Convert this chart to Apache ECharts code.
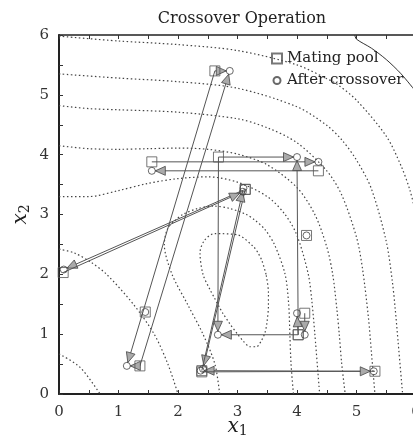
<!DOCTYPE html>
<html><head><meta charset="utf-8">
<script src="https://cdn.jsdelivr.net/npm/echarts@6/dist/echarts.min.js"></script>
<style>html,body{margin:0;padding:0;background:#fff}#c{width:413px;height:442px}</style>
</head><body><div id="c"></div>
<script>
// ---- data ----
const xTickLabels = ['0','1','2','3','4','5','6'];
const yTickLabels = ['0','1','2','3','4','5','6'];

// crossover pairs: parents (mating pool) and their children (after crossover)
const parentA = [[2.62,5.40],[2.68,3.96],[1.56,3.88],[4.13,1.35],[0.07,2.03],[2.40,0.39],[2.40,0.37]];
const parentB = [[1.36,0.47],[4.02,0.99],[4.36,3.73],[4.02,0.99],[3.13,3.42],[3.13,3.42],[5.31,0.38]];
const childA  = [[2.87,5.40],[4.00,3.96],[4.36,3.88],[4.00,1.35],[0.08,2.08],[2.42,0.42],[2.38,0.39]];
const childB  = [[1.14,0.47],[2.67,0.99],[1.56,3.73],[4.13,0.99],[3.09,3.38],[3.10,3.44],[5.29,0.38]];
// individuals copied unchanged (no crossover)
const unchanged = [[1.45,1.37],[4.16,2.65]];

// contour lines (dotted) of the objective
const contour10 = [[3.48,2.0],[3.41,2.23],[3.35,2.35],[3.27,2.46],[3.0,2.66],[2.61,2.68],[2.44,2.56],[2.37,2.36],[2.42,2.0],[2.54,1.74],[2.61,1.61],[2.69,1.46],[2.76,1.34],[2.86,1.19],[3.0,1.0],[3.10,0.88],[3.21,0.79],[3.32,0.79],[3.40,0.89],[3.46,1.02],[3.49,1.16],[3.52,1.48],[3.52,1.70],[3.48,2.0]];
const contour30 = [[2.70,0],[2.62,0.5],[2.42,1.0],[2.16,1.5],[1.90,2.0],[1.77,2.5],[1.82,2.75],[1.95,2.9],[2.08,3.0],[2.33,3.1],[2.6,3.14],[2.87,3.1],[3.15,3.0],[3.3,2.9],[3.46,2.75],[3.62,2.5],[3.80,2.0],[3.86,1.5],[3.88,1.0],[3.9,0.5],[3.94,0]];
const contour75a = [[0,2.42],[0.25,2.36],[0.54,2.2],[0.8,2.0],[1.25,1.5],[1.6,1.0],[1.83,0.5],[2.0,0]];
const contour75b = [[0,3.3],[0.5,3.3],[1,3.4],[1.5,3.52],[2,3.6],[2.5,3.63],[3,3.54],[3.5,3.3],[3.8,3.0],[4.0,2.65],[4.19,2.0],[4.25,1.55],[4.3,1.0],[4.38,0]];
const contour150a = [[0,0.67],[0.35,0.45],[0.69,0]];
const contour150b = [[0,4.15],[0.5,4.1],[1,4.09],[1.5,4.1],[2,4.11],[2.5,4.09],[3,4.01],[3.5,3.83],[4,3.45],[4.3,3.0],[4.5,2.46],[4.6,2.0],[4.67,1.42],[4.71,1.0],[4.75,0.52],[4.81,0]];
const contour300 = [[0,4.82],[0.5,4.77],[1,4.75],[2,4.71],[3,4.6],[3.5,4.45],[4,4.2],[4.5,3.73],[4.75,3.33],[5,2.62],[5.1,2.1],[5.2,1.28],[5.25,0.7],[5.31,0]];
const contour500 = [[0,5.35],[1,5.28],[2,5.22],[3,5.11],[4,4.8],[4.5,4.49],[4.75,4.25],[5,3.91],[5.25,3.43],[5.5,2.55],[5.6,1.9],[5.65,1.43],[5.7,0.86],[5.775,0]];
const contour850 = [[0,5.98],[1,5.9],[2,5.84],[3,5.74],[4,5.5],[4.5,5.27],[4.67,5.18],[5,4.91],[5.5,4.31],[5.75,3.81],[5.9,3.4],[6,3.0]];
const boundary = [[4.97,6.0],[5.0,5.93],[5.25,5.78],[5.5,5.59],[5.75,5.35],[6,5.05]];

// ---- build chart ----
const dottedContours = [contour10, contour30, contour75a, contour75b, contour150a, contour150b, contour300, contour500, contour850];

const parents = parentA.concat(parentB, unchanged);
const children = childA.concat(childB, unchanged);
const arrows = [];
for (let i = 0; i < parentA.length; i++) {
  [[parentA[i], childA[i]], [parentB[i], childA[i]], [parentA[i], childB[i]], [parentB[i], childB[i]]].forEach(function (p) {
    arrows.push([p[0][0], p[0][1], p[1][0], p[1][1]]);
  });
}

const serif = 'DejaVu Serif';
const chart = echarts.init(document.getElementById('c'), null, {renderer: 'canvas'});

const series = [];
dottedContours.forEach(function (c) {
  series.push({type: 'line', data: c, showSymbol: false, smooth: 0.3, silent: true, z: 1,
    lineStyle: {color: '#444', width: 1.2, type: [1.5, 2.5]}});
});
series.push({type: 'line', data: boundary, showSymbol: false, smooth: 0.3, silent: true, z: 1,
  lineStyle: {color: '#333', width: 1}});

series.push({
  type: 'custom', z: 3, silent: true, data: arrows,
  encode: {x: [0, 2], y: [1, 3]},
  renderItem: function (params, api) {
    const p1 = api.coord([api.value(0), api.value(1)]);
    const p2 = api.coord([api.value(2), api.value(3)]);
    const dx = p2[0] - p1[0], dy = p2[1] - p1[1];
    const len = Math.sqrt(dx * dx + dy * dy);
    if (len < 10) return null;
    const ux = dx / len, uy = dy / len;
    const tip = [p2[0] - ux * 3.5, p2[1] - uy * 3.5];
    const L = 10, W = 4.5;
    const base = [tip[0] - ux * L, tip[1] - uy * L];
    const nx = -uy, ny = ux;
    return {
      type: 'group',
      children: [
        {type: 'line', shape: {x1: p1[0], y1: p1[1], x2: tip[0], y2: tip[1]},
          style: {stroke: '#555', lineWidth: 1}},
        {type: 'polygon', shape: {points: [tip, [base[0] + nx * W, base[1] + ny * W], [base[0] - nx * W, base[1] - ny * W]]},
          style: {fill: '#aaa', stroke: '#444', lineWidth: 0.8}}
      ]
    };
  }
});

series.push({type: 'scatter', name: 'Mating pool', data: parents, symbol: 'rect', symbolSize: 10, z: 4,
  itemStyle: {color: 'rgba(255,255,255,0)', borderColor: '#555', borderWidth: 1}});
series.push({type: 'scatter', name: 'After crossover', data: children, symbol: 'circle', symbolSize: 7, z: 5,
  itemStyle: {color: 'rgba(255,255,255,0)', borderColor: '#444', borderWidth: 1}});

function axisCommon(pos, labels, showLabel) {
  return {
    type: 'value', min: 0, max: 6, interval: 1, position: pos,
    axisLine: {show: true, onZero: false, lineStyle: {color: '#222', width: (pos === 'bottom' || pos === 'left') ? 2 : 1.5}},
    axisTick: {show: true, inside: true, length: 4, lineStyle: {color: '#333', width: 1}},
    minorTick: {show: true, splitNumber: 2, length: 4, lineStyle: {color: '#333', width: 1}},
    splitLine: {show: false},
    axisLabel: {show: showLabel, margin: 11, fontFamily: serif, fontSize: 15, color: '#333',
      formatter: function (v) { return labels[Math.round(v)]; }}
  };
}

const nameRich = {i: {fontFamily: serif, fontStyle: 'italic', fontSize: 20, color: '#222'},
  s: {fontFamily: serif, fontSize: 14, color: '#222', verticalAlign: 'bottom', padding: [8, 0, 0, 0]}};
const xBottom = axisCommon('bottom', xTickLabels, true);
xBottom.name = '{i|x}{s|1}';
xBottom.nameLocation = 'middle';
xBottom.nameGap = 22;
xBottom.nameMoveOverlap = false;
xBottom.nameTextStyle = {rich: nameRich};
const xTop = axisCommon('top', xTickLabels, false);
const yLeft = axisCommon('left', yTickLabels, true);
yLeft.axisLabel.margin = 10;
yLeft.name = '{i|x}{s|2}';
yLeft.nameLocation = 'middle';
yLeft.nameGap = 27;
yLeft.nameMoveOverlap = false;
yLeft.nameTextStyle = {rich: nameRich};

chart.setOption({
  animation: false,
  backgroundColor: '#fff',
  title: {text: 'Crossover Operation', left: 237, top: 6, textAlign: 'center',
    textStyle: {fontFamily: serif, fontSize: 16, fontWeight: 'normal', color: '#222'}},
  grid: {left: 59, top: 35, width: 357, height: 359, containLabel: false, outerBoundsMode: 'none'},
  legend: {orient: 'vertical', left: 266, top: 46,
    itemWidth: 10, itemHeight: 10, itemGap: 7, selectedMode: false,
    data: [
      {name: 'Mating pool'},
      {name: 'After crossover', icon: 'path://M0,0M10,10M8.5,5A3.5,3.5,0,1,1,1.5,5A3.5,3.5,0,1,1,8.5,5Z'}
    ],
    textStyle: {fontFamily: serif, fontSize: 15, color: '#222'}},
  xAxis: [xBottom, xTop],
  yAxis: [yLeft],
  series: series
});
</script></body></html>
